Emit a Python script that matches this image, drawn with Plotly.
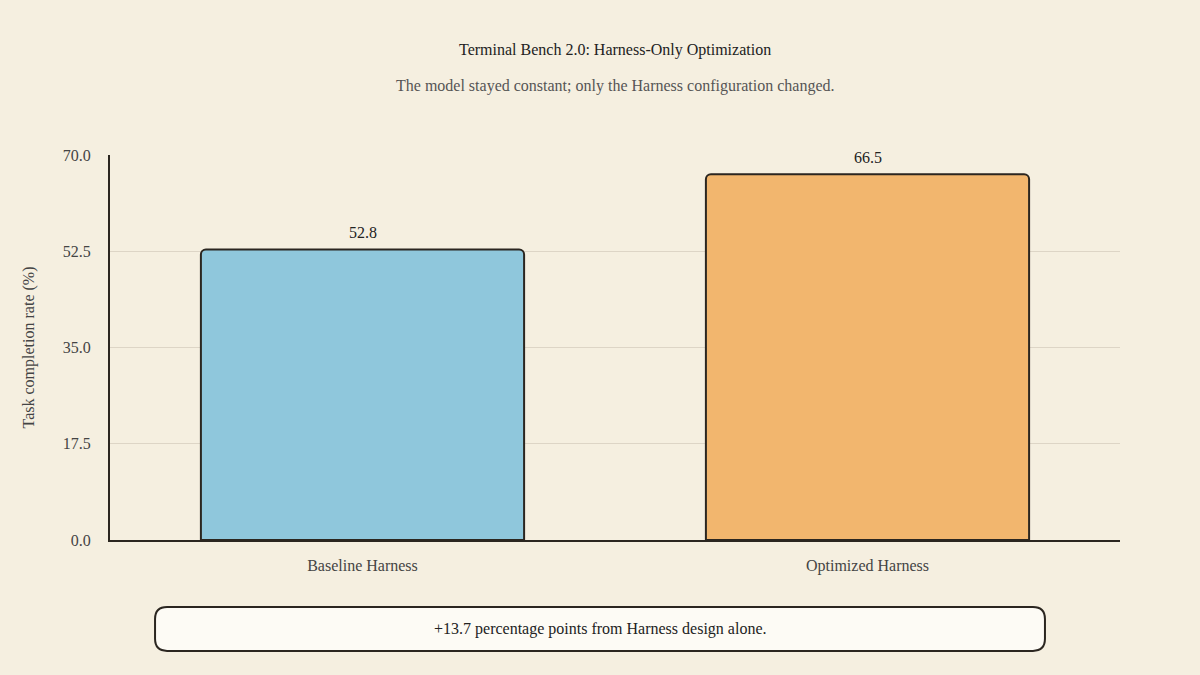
import plotly.graph_objects as go

categories = ["Baseline Harness", "Optimized Harness"]
rates = [52.8, 66.5]
bar_colors = ["#8fc7dc", "#f2b66e"]
tick_values = [0, 17.5, 35, 52.5, 70]

title = "Terminal Bench 2.0: Harness-Only Optimization"
subtitle = "The model stayed constant; only the Harness configuration changed."
note = "+13.7 percentage points from Harness design alone."

font = "Liberation Serif, Times New Roman, serif"

fig = go.Figure()
fig.add_trace(go.Bar(
    x=categories,
    y=rates,
    marker=dict(color=bar_colors, line=dict(color="#2b2620", width=2), cornerradius=5),
    hoverinfo="x+y",
))

# value labels above the bars
for c, v in zip(categories, rates):
    fig.add_annotation(x=c, y=v, text=f"{v:.1f}", showarrow=False, yshift=17,
                       yanchor="middle", font=dict(size=16, color="#222222", family=font))

# rounded box under the chart for the note
x0, x1 = 0.0446, 0.9257
y0, y1 = -0.288, -0.174
rx, ry = 0.0119, 0.0312
path = (f"M {x0+rx},{y1} L {x1-rx},{y1} Q {x1},{y1} {x1},{y1-ry} "
        f"L {x1},{y0+ry} Q {x1},{y0} {x1-rx},{y0} L {x0+rx},{y0} "
        f"Q {x0},{y0} {x0},{y0+ry} L {x0},{y1-ry} Q {x0},{y1} {x0+rx},{y1} Z")
fig.add_shape(type="path", path=path, xref="paper", yref="paper",
              fillcolor="#fdfbf5", line=dict(color="#2b2620", width=2), layer="above")
fig.add_annotation(text=note, xref="paper", yref="paper", x=(x0+x1)/2, y=(y0+y1)/2,
                   yanchor="middle", showarrow=False,
                   font=dict(size=16, color="#222222", family=font))

fig.add_annotation(text=title, xref="paper", yref="paper", x=0.5, y=1.273,
                   yanchor="middle", showarrow=False,
                   font=dict(size=16, color="#222222", family=font))
fig.add_annotation(text=subtitle, xref="paper", yref="paper", x=0.5, y=1.179,
                   yanchor="middle", showarrow=False,
                   font=dict(size=16, color="#555555", family=font))

fig.update_layout(
    width=1200, height=675,
    paper_bgcolor="#f5efe0", plot_bgcolor="#f5efe0",
    margin=dict(l=110, r=80, t=155, b=135),
    bargap=0.36,
    showlegend=False,
    font=dict(family=font, size=16, color="#444444"),
)
fig.update_xaxes(showline=True, linecolor="#2b2620", linewidth=2, ticks="",
                 ticklabelstandoff=10, tickfont=dict(size=16, color="#444444"))
fig.update_yaxes(range=[0, 70], tickvals=tick_values, tickformat=".1f",
                 showline=True, linecolor="#2b2620", linewidth=2,
                 gridcolor="#ddd5c6", gridwidth=1, zeroline=False,
                 ticklabelstandoff=14, tickfont=dict(size=16, color="#444444"),
                 title=dict(text="Task completion rate (%)", font=dict(size=16, color="#444444"), standoff=24))

fig.write_html("out.html", config={"displayModeBar": False},
               post_script="document.body.style.margin='0';document.body.style.background='#f5efe0';")
